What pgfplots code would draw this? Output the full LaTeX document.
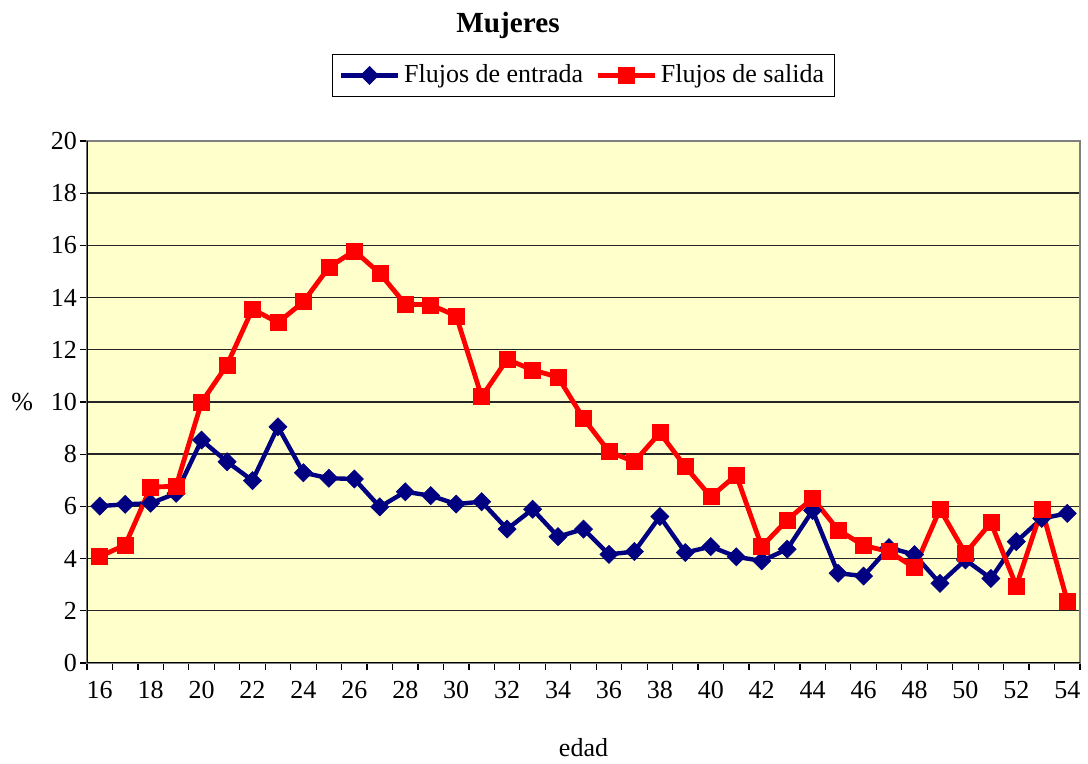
\documentclass[border=0pt]{standalone}
\usepackage{pgfplots}
\pgfplotsset{compat=1.18}
\usepackage{fontspec}
\setmainfont{Liberation Serif}
\definecolor{navyc}{HTML}{000080}
\definecolor{redc}{HTML}{FF0000}
\definecolor{bgc}{HTML}{FFFFCC}
\begin{document}
\begin{tikzpicture}
\path[use as bounding box] (-43.5pt,-50.5pt) rectangle (500.5pt,331.5pt);
\begin{axis}[
  scale only axis,
  width=496.5pt, height=261pt,
  xmin=15.5, xmax=54.5, ymin=0, ymax=20,
  xtick={16,18,...,54},
  minor xtick={15.5,16.5,...,54.5},
  ytick={0,2,...,20},
  tick pos=left, tick align=outside,
  major x tick style={draw=none},
  minor tick length=3.5pt, major tick length=3.5pt,
  every tick/.style={black, line width=0.6pt},
  ymajorgrids, grid style={black!85, line width=0.7pt},
  axis background/.style={fill=bgc},
  axis line style={draw=gray, line width=0.8pt},
  font=\fontsize{13}{15}\selectfont,
  ticklabel style={font=\fontsize{13}{15}\selectfont},
  /pgf/number format/assume math mode=true,
  yticklabel style={xshift=2pt},
  xticklabel style={yshift=-2pt},
  title={Mujeres},
  title style={at={(axis description cs:0.424,1)}, anchor=center, yshift=52pt, font=\fontsize{14.6}{16}\selectfont\bfseries},
  xlabel={edad},
  xlabel style={at={(axis description cs:0.5,0)}, anchor=center, yshift=-42.5pt},
  ylabel={\%},
  ylabel style={rotate=-90, at={(axis description cs:0,0.5)}, anchor=east, xshift=-23.5pt},
  legend columns=2,
  legend style={at={(axis description cs:0.5,1)}, anchor=south, yshift=22pt,
    draw=black, line width=0.6pt, fill=white, font=\fontsize{13}{15}\selectfont,
    /tikz/every even column/.append style={column sep=4pt},
    inner xsep=3pt, inner ysep=3.2pt},
  legend image code/.code={\draw[mark repeat=2,mark phase=2] plot coordinates {(0cm,0cm) (0.5cm,0cm) (1cm,0cm)};},
]
\addplot[navyc, line width=2.2pt, mark=square*, mark size=3.2pt, mark options={rotate=45, line width=0.3pt}] coordinates {
(16,6.01) (17,6.08) (18,6.12) (19,6.5) (20,8.54) (21,7.71) (22,6.99) (23,9.05)
(24,7.29) (25,7.08) (26,7.05) (27,5.98) (28,6.56) (29,6.41) (30,6.09) (31,6.18)
(32,5.13) (33,5.89) (34,4.84) (35,5.13) (36,4.16) (37,4.27) (38,5.61) (39,4.23)
(40,4.46) (41,4.07) (42,3.91) (43,4.36) (44,5.84) (45,3.44) (46,3.33) (47,4.42)
(48,4.15) (49,3.05) (50,3.95) (51,3.24) (52,4.65) (53,5.54) (54,5.73)};
\addlegendentry{Flujos de entrada}
\addplot[redc, line width=2.4pt, mark=square*, mark size=4pt, mark options={line width=0.3pt}] coordinates {
(16,4.08) (17,4.52) (18,6.73) (19,6.78) (20,9.99) (21,11.42) (22,13.56) (23,13.04)
(24,13.84) (25,15.16) (26,15.79) (27,14.93) (28,13.75) (29,13.72) (30,13.3) (31,10.2)
(32,11.63) (33,11.23) (34,10.95) (35,9.37) (36,8.1) (37,7.71) (38,8.82) (39,7.52)
(40,6.37) (41,7.2) (42,4.46) (43,5.48) (44,6.31) (45,5.1) (46,4.5) (47,4.27)
(48,3.65) (49,5.89) (50,4.2) (51,5.38) (52,2.95) (53,5.89) (54,2.38)};
\addlegendentry{Flujos de salida}
\draw[black, line width=1pt] (rel axis cs:0,1) -- (rel axis cs:0,0) -- (rel axis cs:1,0);
\end{axis}
\end{tikzpicture}
\end{document}
